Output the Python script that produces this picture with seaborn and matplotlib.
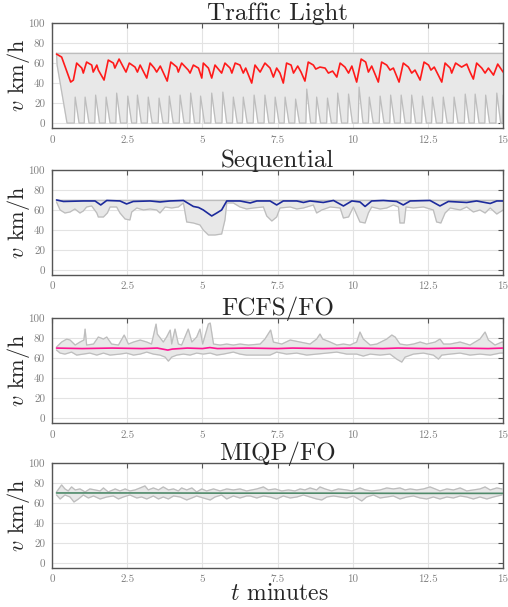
import numpy as np
import matplotlib
matplotlib.use("Agg")
import matplotlib.pyplot as plt
import seaborn as sns

# ---- data (t in minutes, v in km/h) ----
titles = ["Traffic Light", "Sequential", "FCFS/FO", "MIQP/FO"]
line_colors = ["#ff1a1a", "#1c2a9c", "#ff1493", "#4f8a6a"]

# Traffic Light
tl_mean_t = [0.15, 0.32, 0.62, 0.71, 0.82, 0.99, 1.04, 1.15, 1.32, 1.37, 1.49, 1.54, 1.73, 1.87, 2.04,
             2.09, 2.23, 2.37, 2.46, 2.57, 2.76, 2.84, 2.93, 3.15, 3.26, 3.40, 3.48, 3.60, 3.83, 3.95,
             4.15, 4.20, 4.31, 4.53, 4.59, 4.70, 4.87, 4.98, 5.03, 5.20, 5.31, 5.42, 5.64, 5.75, 5.92,
             5.98, 6.09, 6.25, 6.36, 6.44, 6.64, 6.75, 6.92, 7.08, 7.25, 7.36, 7.47, 7.58, 7.69, 7.80,
             7.95, 8.03, 8.17, 8.28, 8.41, 8.52, 8.69, 8.77, 8.91, 9.08, 9.19, 9.33, 9.47, 9.58, 9.74,
             9.86, 9.97, 10.13, 10.28, 10.43, 10.52, 10.63, 10.85, 10.96, 11.13, 11.24, 11.35, 11.54,
             11.68, 11.85, 11.96, 12.07, 12.24, 12.37, 12.52, 12.60, 12.71, 12.96, 13.07, 13.24, 13.29,
             13.42, 13.62, 13.79, 13.90, 14.01, 14.12, 14.29, 14.40, 14.51, 14.68, 14.82, 15.00]
tl_mean_v = [69, 66, 41, 43, 60, 55, 50, 61, 58, 51, 58, 53, 43, 63, 60,
             55, 64, 56, 51, 60, 56, 51, 58, 45, 60, 55, 51, 57, 42, 61,
             56, 51, 60, 53, 50, 58, 55, 45, 60, 55, 45, 58, 50, 60, 55,
             50, 60, 58, 50, 55, 40, 58, 51, 60, 55, 46, 55, 50, 40, 60,
             58, 50, 57, 51, 42, 61, 58, 54, 56, 55, 50, 52, 46, 60, 56,
             50, 57, 41, 64, 61, 51, 57, 41, 61, 58, 53, 55, 41,
             60, 56, 50, 53, 43, 61, 58, 53, 56, 41, 60, 55, 50,
             60, 56, 59, 51, 44, 60, 55, 50, 55, 48, 59, 51]
tl_max_t = [0.15, 15.0]
tl_max_v = [70, 70]
tl_start_t = [0.15, 0.17, 0.50]
tl_start_v = [70, 58, 0]
tl_spike_t = [0.77, 1.10, 1.45, 1.80, 2.15, 2.52, 2.84, 3.20, 3.56, 3.90, 4.26, 4.61, 4.94, 5.31,
              5.68, 6.03, 6.36, 6.72, 7.08, 7.42, 7.75, 8.10, 8.47, 8.80, 9.16, 9.50, 9.86, 10.21,
              10.55, 10.91, 11.26, 11.61, 11.96, 12.32, 12.65, 13.01, 13.37, 13.74, 14.07, 14.42, 14.79]
tl_spike_v = [26, 26, 28, 26, 30, 27, 28, 26, 25, 27, 28, 30, 27, 30,
              31, 26, 26, 28, 28, 26, 26, 24, 34, 26, 25, 30, 29, 36,
              26, 27, 28, 28, 28, 27, 26, 26, 26, 29, 29, 28, 30]

# Sequential
sq_mean_t = [0.15, 0.38, 1.04, 1.43, 1.62, 1.82, 2.26, 2.48, 2.70, 3.26, 3.59, 3.92, 4.37, 4.70, 4.87,
             5.03, 5.31, 5.48, 5.64, 5.81, 6.25, 6.59, 6.81, 7.25, 7.47, 7.69, 8.14, 8.36, 8.58, 9.02,
             9.36, 9.69, 9.97, 10.24, 10.41, 10.63, 11.02, 11.46, 11.68, 11.91, 12.57, 12.90, 13.18,
             13.79, 14.12, 14.57, 14.79, 15.00]
sq_mean_v = [70, 68.5, 69, 69, 65, 69.5, 69, 66, 68.5, 69, 68, 69, 69.5, 63.5, 62.5,
             60, 54, 57, 60, 69, 69, 67, 69, 69, 65, 69, 69, 67.5, 69, 67.5,
             69.5, 64, 69, 68, 63.5, 69, 69.5, 68.5, 65, 69, 69.5, 64, 68.5,
             67.5, 69, 66.5, 69, 69]
sq_max_t = [0.15, 15.0]
sq_max_v = [70, 70]
sq_min_t = [0.15, 0.27, 0.43, 0.60, 0.76, 0.93, 1.04, 1.15, 1.32, 1.49, 1.54, 1.71, 1.84, 1.93, 2.15,
            2.26, 2.43, 2.59, 2.65, 2.82, 3.04, 3.26, 3.48, 3.59, 3.76, 3.98, 4.20, 4.37, 4.48, 4.70,
            4.92, 5.03, 5.20, 5.42, 5.64, 5.75, 5.81, 6.03, 6.25, 6.47, 6.70, 7.03, 7.14, 7.31, 7.47,
            7.58, 7.92, 8.14, 8.36, 8.69, 8.80, 8.97, 9.25, 9.58, 9.69, 9.86, 10.02, 10.24, 10.41,
            10.52, 10.63, 10.91, 11.13, 11.35, 11.52, 11.57, 11.71, 11.77, 12.02, 12.35, 12.68, 12.79,
            12.93, 13.07, 13.24, 13.57, 13.79, 14.01, 14.23, 14.40, 14.57, 14.79, 15.00]
sq_min_v = [68, 60, 57, 58, 61, 57, 59, 63, 64, 57, 53, 53, 57, 63, 63,
            57, 51, 50, 58, 62, 60, 61, 60, 57, 63, 62, 63, 67, 48, 47,
            45, 40, 35, 35, 36, 50, 67, 67, 63, 61, 62, 63, 54, 49, 53,
            62, 63, 61, 62, 65, 57, 60, 63, 62, 52, 53, 63, 48, 47,
            57, 63, 61, 62, 65, 63, 47, 47, 63, 62, 63, 60, 48,
            47, 57, 62, 60, 63, 58, 60, 57, 62, 56, 60]

# FCFS/FO
fc_mean_t = [0.15, 1.0, 2.0, 3.0, 3.5, 3.85, 4.0, 4.5, 5.0, 5.25, 5.5, 6.5, 7.5, 8.0, 9.0, 10.0,
             11.0, 11.5, 12.5, 13.5, 14.5, 15.0]
fc_mean_v = [70, 69.5, 70, 69.5, 70, 68, 69, 70, 69.5, 70.5, 69.5, 70, 69.5, 70, 69.5, 70,
             69.5, 70, 69.5, 70, 69.5, 70]
fc_max_t = [0.15, 0.32, 0.49, 0.60, 0.77, 0.93, 1.06, 1.10, 1.15, 1.38, 1.54, 1.71, 1.82, 1.98, 2.21,
            2.40, 2.54, 2.71, 2.93, 3.15, 3.31, 3.46, 3.50, 3.70, 3.81, 3.93, 3.98, 4.09, 4.20, 4.31,
            4.53, 4.65, 4.81, 4.92, 5.01, 5.20, 5.26, 5.37, 5.59, 5.81, 6.03, 6.25, 6.53, 6.92, 7.08,
            7.27, 7.36, 7.64, 7.92, 8.25, 8.58, 8.80, 8.91, 9.00, 9.25, 9.47, 9.69, 9.91, 10.13, 10.24,
            10.35, 10.58, 10.80, 11.13, 11.30, 11.41, 11.57, 11.80, 12.02, 12.24, 12.46, 12.74, 12.90,
            13.02, 13.24, 13.57, 13.90, 14.23, 14.40, 14.51, 14.73, 14.96, 15.00]
fc_max_v = [71, 76, 79, 78, 73, 76, 78, 89, 73, 74, 81, 79, 81, 74, 73,
            83, 74, 76, 78, 76, 74, 94, 84, 76, 81, 88, 74, 89, 74, 73,
            89, 76, 81, 89, 74, 94, 95, 74, 73, 74, 73, 74, 73, 74, 79,
            88, 76, 74, 78, 76, 74, 79, 84, 79, 76, 73, 74, 73, 76, 86,
            79, 73, 74, 79, 83, 81, 74, 73, 74, 76, 74, 76, 79,
            74, 74, 76, 73, 79, 86, 78, 73, 76, 76]
fc_min_t = [0.15, 0.27, 0.43, 0.65, 0.82, 1.04, 1.26, 1.49, 1.71, 1.93, 2.26, 2.48, 2.71, 2.93, 3.15,
            3.37, 3.59, 3.76, 3.87, 3.98, 4.15, 4.37, 4.59, 4.81, 5.03, 5.26, 5.48, 5.70, 6.03, 6.25,
            6.47, 7.25, 7.47, 7.80, 8.14, 8.47, 8.80, 9.14, 9.47, 9.80, 10.13, 10.35, 10.58, 10.91,
            11.24, 11.46, 11.63, 11.74, 12.02, 12.35, 12.68, 12.85, 12.96, 13.24, 13.57, 13.90, 14.23,
            14.57, 14.90, 15.00]
fc_min_v = [68, 65, 64, 66, 63, 64, 65, 63, 65, 63, 64, 65, 63, 64, 66,
            64, 63, 61, 57, 61, 63, 64, 63, 65, 64, 65, 63, 64, 66, 64,
            63, 63, 66, 64, 65, 63, 64, 65, 66, 64, 64, 62, 64, 63,
            64, 59, 56, 61, 64, 65, 63, 59, 63, 64, 65, 63, 64,
            63, 65, 65]

# MIQP/FO
mq_mean_t = [0.15, 3.0, 6.0, 9.0, 12.0, 15.0]
mq_mean_v = [70, 70, 69.8, 69.8, 69.6, 69.6]
mq_max_t = [0.15, 0.32, 0.43, 0.54, 0.65, 0.77, 0.93, 1.10, 1.26, 1.43, 1.60, 1.71, 1.87, 2.10, 2.26,
            2.43, 2.59, 2.76, 2.93, 3.09, 3.20, 3.37, 3.54, 3.70, 3.87, 4.04, 4.20, 4.31, 4.48, 4.65,
            4.81, 4.98, 5.14, 5.37, 5.59, 5.81, 6.03, 6.25, 6.47, 6.81, 7.03, 7.19, 7.42, 7.64, 7.86,
            8.08, 8.25, 8.41, 8.58, 8.80, 8.91, 9.08, 9.30, 9.52, 9.80, 9.97, 10.24, 10.41, 10.63,
            10.91, 11.13, 11.35, 11.57, 11.74, 11.91, 12.13, 12.35, 12.57, 12.74, 12.90, 13.13, 13.35,
            13.57, 13.79, 14.01, 14.23, 14.40, 14.57, 14.79, 14.96]
mq_max_v = [71, 78, 74, 72, 76, 73, 74, 71, 74, 73, 72, 75, 71, 74, 72,
            74, 72, 73, 75, 77, 73, 75, 73, 76, 73, 74, 72, 75, 73, 75,
            71, 74, 72, 74, 72, 74, 73, 74, 72, 74, 76, 73, 74, 72, 73,
            72, 74, 73, 75, 73, 76, 74, 72, 74, 73, 72, 75, 73, 72,
            73, 75, 74, 75, 73, 74, 73, 74, 76, 74, 72, 74, 73,
            75, 72, 73, 74, 76, 73, 75, 74]
mq_min_t = [0.15, 0.27, 0.43, 0.60, 0.73, 0.88, 1.04, 1.21, 1.38, 1.60, 1.82, 2.04, 2.21, 2.37, 2.59,
            2.82, 2.98, 3.15, 3.37, 3.54, 3.70, 3.87, 4.04, 4.26, 4.48, 4.65, 4.81, 5.03, 5.26, 5.42,
            5.64, 5.81, 6.03, 6.25, 6.47, 6.59, 6.81, 7.03, 7.25, 7.47, 7.69, 7.92, 8.14, 8.36, 8.58,
            8.80, 8.97, 9.14, 9.36, 9.58, 9.80, 10.02, 10.30, 10.46, 10.69, 10.91, 11.13, 11.35, 11.57,
            11.80, 12.02, 12.24, 12.46, 12.68, 12.90, 13.13, 13.35, 13.57, 13.79, 14.01, 14.23, 14.46,
            14.68, 14.96]
mq_min_v = [68, 64, 68, 66, 61, 64, 68, 65, 67, 64, 66, 67, 64, 66, 68,
            65, 66, 64, 67, 64, 66, 64, 67, 66, 63, 65, 67, 65, 63, 66,
            68, 64, 67, 65, 67, 67, 65, 67, 66, 64, 67, 65, 66, 68, 66,
            64, 63, 66, 67, 66, 65, 67, 62, 66, 68, 65, 66, 67, 64,
            66, 67, 65, 64, 66, 64, 66, 65, 67, 66, 64, 66, 64,
            66, 68]

xticks = [0, 2.5, 5, 7.5, 10, 12.5, 15]
xtick_labels = ["0", "2.5", "5", "7.5", "10", "12.5", "15"]
yticks = [0, 20, 40, 60, 80, 100]

# traffic light lower envelope: start, then one sawtooth per spike
tl_min_t = list(tl_start_t)
tl_min_v = list(tl_start_v)
for ts, vs in zip(tl_spike_t, tl_spike_v):
    tl_min_t += [ts - 0.03, ts, ts + 0.13]
    tl_min_v += [0, vs, 0]
tl_min_t += [14.97, 15.0]
tl_min_v += [0, 28]

panels = [
    (tl_mean_t, tl_mean_v, tl_max_t, tl_max_v, tl_min_t, tl_min_v),
    (sq_mean_t, sq_mean_v, sq_max_t, sq_max_v, sq_min_t, sq_min_v),
    (fc_mean_t, fc_mean_v, fc_max_t, fc_max_v, fc_min_t, fc_min_v),
    (mq_mean_t, mq_mean_v, mq_max_t, mq_max_v, mq_min_t, mq_min_v),
]

sns.set_style("whitegrid")
plt.rcParams["font.family"] = ["cmr10", "DejaVu Serif"]
plt.rcParams["mathtext.fontset"] = "cm"
plt.rcParams["axes.formatter.use_mathtext"] = True

fig = plt.figure(figsize=(5.08, 6.07), dpi=100)
bottoms = [0.789, 0.547, 0.303, 0.0643]

for i, (mt, mv, xt, xv, nt, nv) in enumerate(panels):
    ax = fig.add_axes([0.1024, bottoms[i], 0.888, 0.173])
    poly_t = np.concatenate([xt, nt[::-1]])
    poly_v = np.concatenate([xv, nv[::-1]])
    ax.fill(poly_t, poly_v, color="#e8e8e8", zorder=1)
    sns.lineplot(x=xt, y=xv, ax=ax, color="#bdbdbd", lw=0.9, estimator=None, sort=False, zorder=2)
    sns.lineplot(x=nt, y=nv, ax=ax, color="#bdbdbd", lw=0.9, estimator=None, sort=False, zorder=2)
    sns.lineplot(x=mt, y=mv, ax=ax, color=line_colors[i], lw=1.2, estimator=None, sort=False, zorder=3)

    ax.set_xlim(0, 15)
    ax.set_ylim(-5, 100)
    ax.set_xticks(xticks)
    ax.set_xticklabels(xtick_labels)
    ax.set_yticks(yticks)
    ax.set_yticklabels([str(y) for y in yticks])
    ax.grid(True, color="#e3e3e3", lw=0.8)
    ax.tick_params(direction="in", length=3.5, top=True, right=True, labelsize=8,
                   labelcolor="#808080", color="#555555", pad=5)
    for sp in ax.spines.values():
        sp.set_color("#555555")
        sp.set_linewidth(1.0)
    ax.set_title(titles[i], fontsize=18, pad=2)
    ax.set_ylabel(r"$v$ km/h", fontsize=16)
    ax.yaxis.set_label_coords(-0.045, 0.5)
    ax.set_xlabel("")

fig.text(0.55, 0.003, r"$t$ minutes", fontsize=17, ha="center", va="bottom")

fig.savefig("out.png", dpi=100)
